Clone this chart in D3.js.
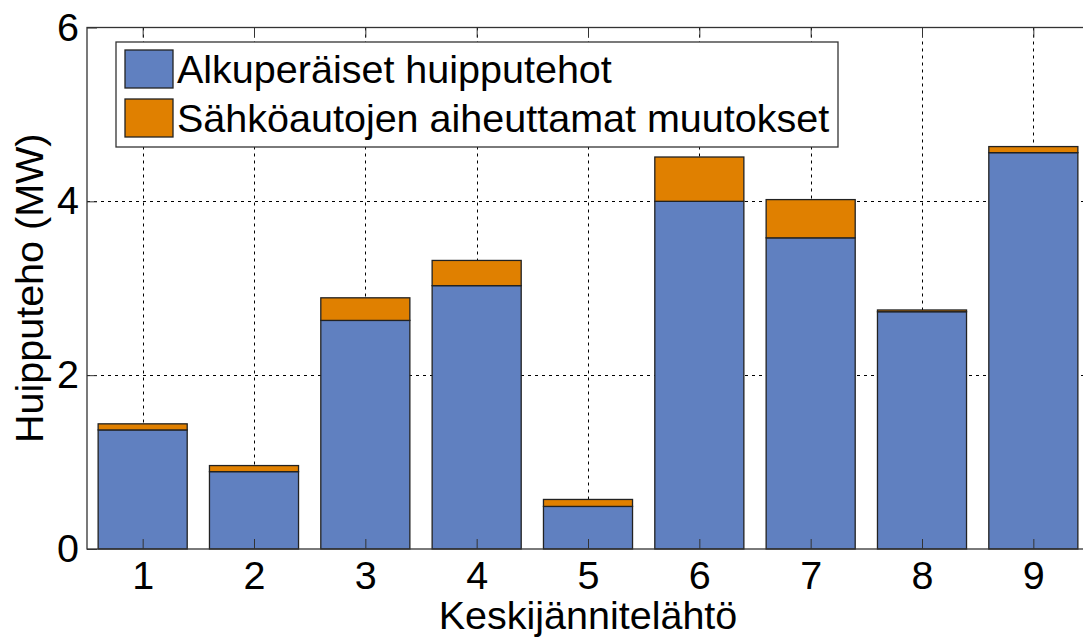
<!DOCTYPE html>
<html>
<head>
<meta charset="utf-8">
<script src="https://cdn.jsdelivr.net/npm/d3@7"></script>
<style>
  html, body { margin: 0; padding: 0; background: #fff; }
  svg { display: block; }
  text { font-family: "Liberation Sans", Arial, sans-serif; fill: #000; }
</style>
</head>
<body>
<svg id="chart" width="1083" height="639"></svg>
<script>
// Feeder numbers (medium-voltage feeders)
const categories = [1, 2, 3, 4, 5, 6, 7, 8, 9];
// Original peak power per feeder (MW)
const basePeak = [1.37, 0.89, 2.63, 3.03, 0.49, 4.00, 3.58, 2.73, 4.56];
// Additional peak caused by electric vehicles (MW)
const evChange = [0.07, 0.07, 0.26, 0.29, 0.08, 0.51, 0.44, 0.02, 0.07];
const yTicks = [0, 2, 4, 6];
const seriesNames = ["Alkuperäiset huipputehot", "Sähköautojen aiheuttamat muutokset"];
const seriesColors = ["#6080C0", "#E08000"];

const FS = 39.5;
const svg = d3.select("#chart");
const plotL = 87, plotT = 27.5, plotB = 549, plotR = 1089;

const x = d3.scaleLinear().domain([0.5, 9.5]).range([plotL, plotR]);
const y = d3.scaleLinear().domain([0, 6]).range([plotB, plotT]);
const barW = (x(1.8) - x(1));

const rows = categories.map((c, i) => ({ c, base: basePeak[i], ev: evChange[i] }));
const stack = d3.stack().keys(["base", "ev"])(rows);

// Dotted grid
const grid = svg.append("g");
grid.selectAll("line.gx").data(categories).join("line")
  .attr("x1", d => Math.round(x(d)) + 0.5).attr("x2", d => Math.round(x(d)) + 0.5)
  .attr("y1", plotT).attr("y2", plotB)
  .attr("stroke", "#000").attr("stroke-width", 1).attr("stroke-dasharray", "3,4");
grid.selectAll("line.gy").data(yTicks.filter(v => v > 0 && v < 6)).join("line")
  .attr("x1", plotL).attr("x2", plotR)
  .attr("y1", d => Math.round(y(d)) + 0.5).attr("y2", d => Math.round(y(d)) + 0.5)
  .attr("stroke", "#000").attr("stroke-width", 1).attr("stroke-dasharray", "3,4");

// Stacked bars
stack.forEach((layer, k) => {
  svg.append("g").selectAll("rect").data(layer).join("rect")
    .attr("x", d => x(d.data.c) - barW / 2)
    .attr("width", barW)
    .attr("y", d => y(d[1]))
    .attr("height", d => y(d[0]) - y(d[1]))
    .attr("fill", seriesColors[k])
    .attr("stroke", "#222")
    .attr("stroke-width", 1.3);
});

// Axes box with inward ticks
svg.append("rect").attr("x", plotL).attr("y", plotT)
  .attr("width", plotR - plotL).attr("height", plotB - plotT)
  .attr("fill", "none").attr("stroke", "#333").attr("stroke-width", 1.3);

const xAxis = d3.axisBottom(x).tickValues(categories).tickSize(-10).tickPadding(12);
const gx = svg.append("g").attr("transform", `translate(0,${plotB})`).call(xAxis);
gx.select(".domain").remove();
gx.selectAll(".tick line").attr("stroke", "#333").attr("stroke-width", 1);
gx.selectAll(".tick text").attr("font-size", FS).attr("font-family", "Liberation Sans, Arial, sans-serif").attr("fill", "#000");

const xTop = d3.axisTop(x).tickValues(categories).tickSize(-10).tickFormat("");
const gxt = svg.append("g").attr("transform", `translate(0,${plotT})`).call(xTop);
gxt.select(".domain").remove();
gxt.selectAll(".tick line").attr("stroke", "#333").attr("stroke-width", 1);

const yAxis = d3.axisLeft(y).tickValues(yTicks).tickFormat(d3.format("d")).tickSize(-10).tickPadding(8);
const gy = svg.append("g").attr("transform", `translate(${plotL},0)`).call(yAxis);
gy.select(".domain").remove();
gy.selectAll(".tick line").attr("stroke", "#333").attr("stroke-width", 1);
gy.selectAll(".tick text").attr("font-size", FS).attr("font-family", "Liberation Sans, Arial, sans-serif").attr("fill", "#000");

// Axis titles
svg.append("text").attr("x", x(5)).attr("y", 629)
  .attr("text-anchor", "middle").attr("font-size", FS).text("Keskijännitelähtö");
svg.append("text")
  .attr("transform", `translate(43,${(plotT + plotB) / 2}) rotate(-90)`)
  .attr("text-anchor", "middle").attr("font-size", FS).text("Huipputeho (MW)");

// Legend
const lg = svg.append("g");
lg.append("rect").attr("x", 116).attr("y", 42).attr("width", 722).attr("height", 105)
  .attr("fill", "#fff").attr("stroke", "#333").attr("stroke-width", 1.3);
seriesNames.forEach((name, i) => {
  const yy = 50 + i * 49;
  lg.append("rect").attr("x", 125).attr("y", yy).attr("width", 48).attr("height", 38)
    .attr("fill", seriesColors[i]).attr("stroke", "#222").attr("stroke-width", 1.3);
  lg.append("text").attr("x", 177).attr("y", yy + 33).attr("font-size", FS).text(name);
});
</script>
</body>
</html>
